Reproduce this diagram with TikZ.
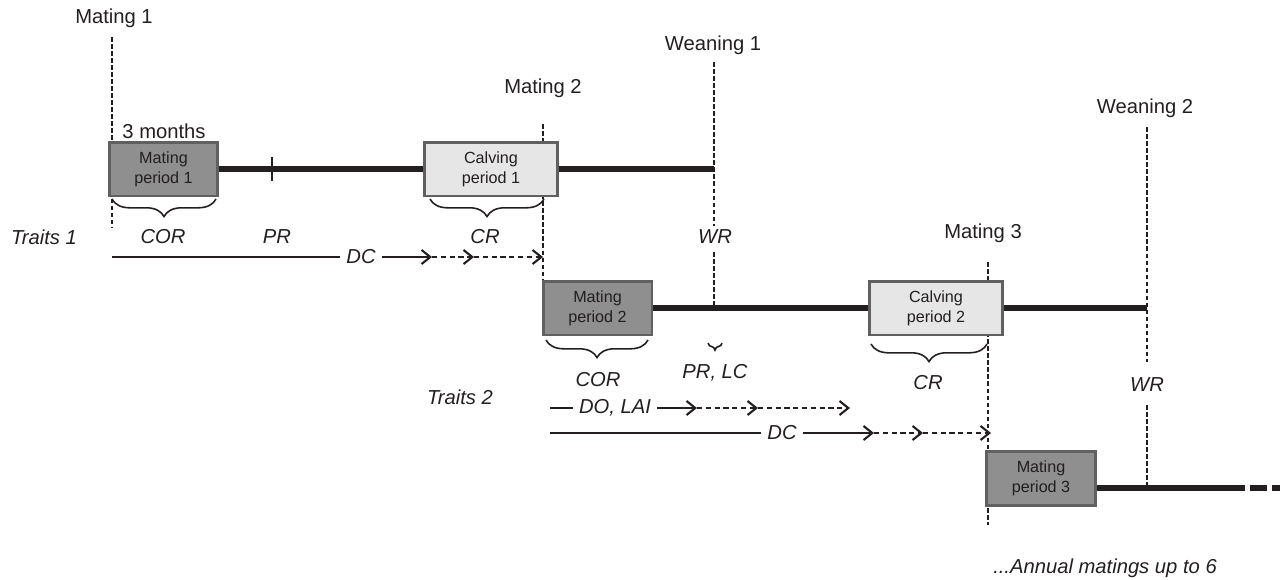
\documentclass[tikz,border=0pt]{standalone}
\usepackage{fontspec}
\setmainfont{Liberation Sans}
\usepackage{tikz}
\usetikzlibrary{arrows.meta,positioning,calc,decorations.pathreplacing}

\definecolor{matefill}{HTML}{8F8F8F}
\definecolor{calvefill}{HTML}{E6E6E6}
\definecolor{boxline}{HTML}{606060}
\definecolor{ink}{HTML}{231F20}

\begin{document}
\begin{tikzpicture}[
    x=0.02cm, y=-0.02cm,
    % --- Node styles ---
    event/.style={font=\fontsize{11.5}{13}\selectfont, text=ink},
    trait/.style={font=\fontsize{11.5}{13}\selectfont\itshape, text=ink},
    mating/.style={draw=boxline, line width=1.7pt, fill=matefill,
        minimum width=2.18cm, minimum height=1.08cm, align=center,
        inner sep=1pt, font=\fontsize{9.2}{11.5}\selectfont, text=ink},
    calving/.style={mating, fill=calvefill, minimum width=2.66cm},
    % --- Edge styles ---
    timeline/.style={line width=3.4pt, draw=ink},
    eventline/.style={dash pattern=on 2.6pt off 1.4pt, line width=1.6pt, draw=ink},
    span/.style={decorate, decoration={brace, mirror, amplitude=10pt},
        line width=0.9pt, draw=ink},
    solid arrow/.style={-{Straight Barb[length=5pt,width=8pt,line width=1.2pt]},
        line width=1pt, draw=ink},
    dashed arrow/.style={solid arrow, dash pattern=on 3pt off 2pt},
    plain/.style={line width=1pt, draw=ink},
]
\useasboundingbox (0,0) rectangle (1280,579);

% === Event labels along the top ===
\node[event] (mate1) at (114,18) {Mating 1};
\node[event] (mate2) at (543,88) {Mating 2};
\node[event] (mate3) at (983,233) {Mating 3};
\node[event] (wean1) at (713,45) {Weaning 1};
\node[event] (wean2) at (1145,108) {Weaning 2};
\node[event] (months) at (164,131) {3 months};

% === Event lines (drawn first, boxes cover them) ===
\coordinate (m1top) at (112,37);   \coordinate (m1bot) at (112,228);
\coordinate (m2top) at (543,124);  \coordinate (m2bot) at (543,282);
\coordinate (m3top) at (988,262);  \coordinate (m3bot) at (988,525);
\coordinate (w1top) at (714,62);   \coordinate (w1gap) at (714,226);
\coordinate (w1low) at (714,252);  \coordinate (w1bot) at (714,307);
\coordinate (w2top) at (1147,127); \coordinate (w2gap) at (1147,362);
\coordinate (w2low) at (1147,405); \coordinate (w2bot) at (1147,488);
\draw[eventline] (m1top) -- (m1bot);
\draw[eventline] (m2top) -- (m2bot);
\draw[eventline] (m3top) -- (m3bot);
\draw[eventline] (w1top) -- (w1gap);
\draw[eventline] (w1low) -- (w1bot);
\draw[eventline] (w2top) -- (w2gap);
\draw[eventline] (w2low) -- (w2bot);

% === Periods ===
\node[mating]  (mp1) at (163.5,169) {Mating\\period 1};
\node[calving] (cp1) at (491,169)   {Calving\\period 1};
\node[mating]  (mp2) at (597.5,308) {Mating\\period 2};
\node[calving] (cp2) at (936,308)   {Calving\\period 2};
\node[mating]  (mp3) at (1041,478)  {Mating\\period 3};

% === Time lines ===
\coordinate (tick) at (272,169);
\coordinate (w1end) at (714,169);
\coordinate (w2end) at (1147,308);
\coordinate (l3) at (1228,488);
\coordinate (l3end) at (1280,488);
\draw[timeline] (mp1.east) -- (cp1.west);
\draw[timeline] (cp1.east) -- (w1end);
\draw[plain] ($(tick)+(0,-12)$) -- ($(tick)+(0,12)$);
\draw[timeline] (mp2.east) -- (cp2.west);
\draw[timeline] (cp2.east) -- (w2end);
\draw[timeline] (mp3.east |- l3) -- (l3);
\draw[timeline, dash pattern=on 9.5pt off 3pt] (l3) -- (l3end);

% === Traits 1 ===
\node[trait] (tr1) at (44,237) {Traits 1};
\node[trait] (cor1) at (163,237) {COR};
\node[trait] (pr1) at (277,237) {PR};
\node[trait] (cr1) at (485,237) {CR};
\node[trait] (wr1) at (715,237) {WR};
\draw[span] (112,199) -- (216,199);
\draw[span] (430,199) -- (544,199);

\node[trait] (dc1) at (361,257) {DC};
\coordinate (t1start) at (112,257);
\coordinate (t1a) at (432,257);
\coordinate (t1b) at (474,257);
\coordinate (t1c) at (543,257);
\draw[plain] (t1start) -- (dc1.west);
\draw[solid arrow] (dc1.east) -- (t1a);
\draw[dashed arrow] (t1a) -- (t1b);
\draw[dashed arrow] (t1b) -- (t1c);

% === Traits 2 ===
\node[trait] (tr2) at (460,397) {Traits 2};
\node[trait] (cor2) at (598,380) {COR};
\node[trait] (prlc) at (715,373) {PR, LC};
\node[trait] (cr2) at (928,383) {CR};
\node[trait] (wr2) at (1147,385) {WR};
\draw[span] (546,340) -- (648,340);
\draw[span, decoration={amplitude=4pt}] (708,343) -- (722,343);
\draw[span] (871,344) -- (987,344);

\node[trait] (dol) at (615,408) {DO, LAI};
\coordinate (t2start) at (550,408);
\coordinate (t2a) at (697,408);
\coordinate (t2b) at (758,408);
\coordinate (t2c) at (850,408);
\draw[plain] (t2start) -- (dol.west);
\draw[solid arrow] (dol.east) -- (t2a);
\draw[dashed arrow] (t2a) -- (t2b);
\draw[dashed arrow] (t2b) -- (t2c);

\node[trait] (dc2) at (782,433) {DC};
\coordinate (t3start) at (550,433);
\coordinate (t3a) at (874,433);
\coordinate (t3b) at (923,433);
\coordinate (t3c) at (991,433);
\draw[plain] (t3start) -- (dc2.west);
\draw[solid arrow] (dc2.east) -- (t3a);
\draw[dashed arrow] (t3a) -- (t3b);
\draw[dashed arrow] (t3b) -- (t3c);

% --- Footnote ---
\node[trait] (annual) at (1105,568) {...Annual matings up to 6};

\end{tikzpicture}
\end{document}
